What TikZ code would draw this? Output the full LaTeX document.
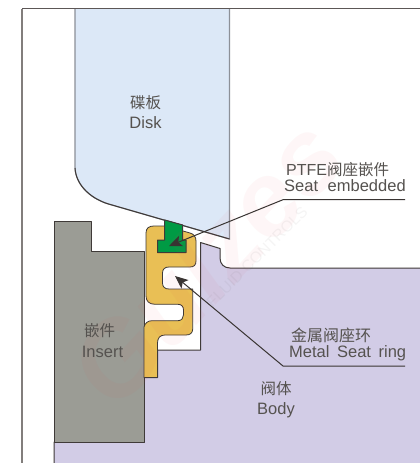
\documentclass[tikz,border=0pt]{standalone}
\usepackage{fontspec}
\setmainfont{Liberation Sans}
\newfontfamily\cjk{Noto Sans CJK SC}
\usetikzlibrary{arrows.meta}
\definecolor{diskfill}{HTML}{DCE8F7}
\definecolor{diskedge}{HTML}{8C9098}
\definecolor{insertfill}{HTML}{9B9C95}
\definecolor{darkedge}{HTML}{3F3A38}
\definecolor{bodyfill}{HTML}{D2CCE6}
\definecolor{ringfill}{HTML}{E9BF55}
\definecolor{greenfill}{HTML}{009A44}
\definecolor{labelgray}{HTML}{55524F}
\definecolor{framegray}{HTML}{827E7C}
\definecolor{markpink}{HTML}{E8404A}
\tikzset{
  x=1pt,y=-1pt,
  partline/.style={line width=1pt,draw=darkedge,line join=round},
  caption/.style={text=labelgray,align=center,inner sep=0pt,font=\fontsize{16.5}{20.5}\selectfont},
  leaderline/.style={line width=1pt,draw=darkedge!90!black,-{Stealth[length=13pt,width=11pt,inset=3pt]}},
}
\begin{document}
\begin{tikzpicture}
\useasboundingbox (0,0) rectangle (420,463);
\fill[white] (0,0) rectangle (420,463);
% frame
\draw[line width=1.2pt,framegray] (22,463) -- (22,8.7);
\draw[line width=1pt,darkedge!85] (22,8.7) -- (420,8.7);
% disk
\path[fill=diskfill,draw=diskedge,line width=1.2pt]
  (75,9) -- (75,168) .. controls (76,186) and (92,200) .. (112,205) -- (229.5,239) -- (229.5,9);
\draw[line width=1pt,darkedge] (75,168) .. controls (76,186) and (92,200) .. (112,205) -- (229.5,239);
% body
\fill[bodyfill]
  (54,463) -- (54,442) -- (144,442) -- (144,377.5) -- (157.5,377.5) -- (157.5,350) -- (200.5,350)
  -- (200.5,242.5) -- (220,248.5) -- (220,258) .. controls (220,264) and (224,268) .. (230,268)
  -- (420,268) -- (420,463) -- cycle;
\draw[partline]
  (54,463) -- (54,442) -- (144,442) -- (144,377.5) -- (157.5,377.5) -- (157.5,350) -- (200.5,350)
  -- (200.5,242.5) -- (220,248.5) -- (220,258) .. controls (220,264) and (224,268) .. (230,268)
  -- (420,268);
% insert
\path[fill=insertfill,partline]
  (54,442) -- (54,221.5) -- (91,221.5) -- (91,251) -- (144,251) -- (144,442) -- cycle;
% ring
\path[fill=ringfill,partline,line width=.8pt]
  (146,233) .. controls (146,228) and (149,226) .. (154,226) -- (165,226) -- (183,231) -- (190,233)
  .. controls (194,234) and (196,237) .. (196,241) -- (196,261)
  .. controls (196,265) and (194,267) .. (190,267) -- (169,267)
  .. controls (165,267) and (162.5,269) .. (162.5,273) -- (162.5,283)
  .. controls (162.5,287) and (165,289) .. (169,289) -- (192.7,289) -- (192.7,329)
  .. controls (192.7,333) and (190,335) .. (186,335) -- (165,335)
  .. controls (160,335) and (157.5,338) .. (157.5,343) -- (157.5,377.5) -- (144,377.5) -- (144,327)
  .. controls (145,323) and (148,320.7) .. (152,320.7) -- (178,320.7)
  .. controls (181.5,320.7) and (183.5,318) .. (183.5,315) -- (183.5,310)
  .. controls (183.5,306.5) and (181.5,304.3) .. (178,304.3) -- (155,304.3)
  .. controls (149,304.3) and (146,301) .. (146,296) -- cycle;
% green seat
\path[fill=greenfill,partline]
  (164.7,220) -- (182.7,225) -- (182.7,240) -- (186,240) -- (186,252.7) -- (157.5,252.7) -- (157.5,240) -- (164.7,240) -- cycle;
% watermark
\node[rotate=47,text=markpink,opacity=.045,inner sep=0pt,font=\fontsize{105}{105}\selectfont\bfseries\itshape] (mark) at (205,262) {Gulzes};
\node[rotate=45,text=labelgray,opacity=.06,inner sep=0pt,font=\fontsize{15.5}{16}\selectfont] (markb) at (257,257) {FLUID CONTROLS};
% labels
\node[caption] (disklabel) at (145.5,112) {{\cjk\fontsize{15.5}{20}\selectfont 碟板}\\Disk};
\node[caption] (insertlabel) at (102.5,340.5) {\hspace*{-6pt}{\cjk\fontsize{15.5}{20}\selectfont 嵌件}\\Insert};
\node[caption] (bodylabel) at (276,399.5) {{\cjk\fontsize{15.5}{20}\selectfont 阀体}\\Body};
\node[text=labelgray,anchor=base west,inner sep=0pt,font=\fontsize{16}{20}\selectfont] (ptfe) at (286,175) {PTFE{\cjk\fontsize{15.5}{20}\selectfont 阀座嵌件}};
\node[text=labelgray,anchor=base west,inner sep=0pt,font=\fontsize{16.5}{20}\selectfont] (seat) at (284,191) {Seat\hspace{5pt} embedded};
\node[text=labelgray,anchor=base west,inner sep=0pt] (metalcn) at (291,341) {\cjk\fontsize{16}{20}\selectfont 金属阀座环};
\node[text=labelgray,anchor=base west,inner sep=0pt,font=\fontsize{16.5}{20}\selectfont] (metal) at (289,357) {Metal\hspace{3pt} Seat\hspace{3pt} ring};
% leaders
\coordinate (seatend) at (405,199.7);
\coordinate (seatknee) at (283,199.7);
\coordinate (seattip) at (169,246);
\coordinate (metalend) at (405,366);
\coordinate (metalknee) at (283,366);
\coordinate (metaltip) at (175,276);
\draw[leaderline] (seatend) -- (seatknee) -- (seattip);
\draw[leaderline] (metalend) -- (metalknee) -- (metaltip);
\end{tikzpicture}
\end{document}
